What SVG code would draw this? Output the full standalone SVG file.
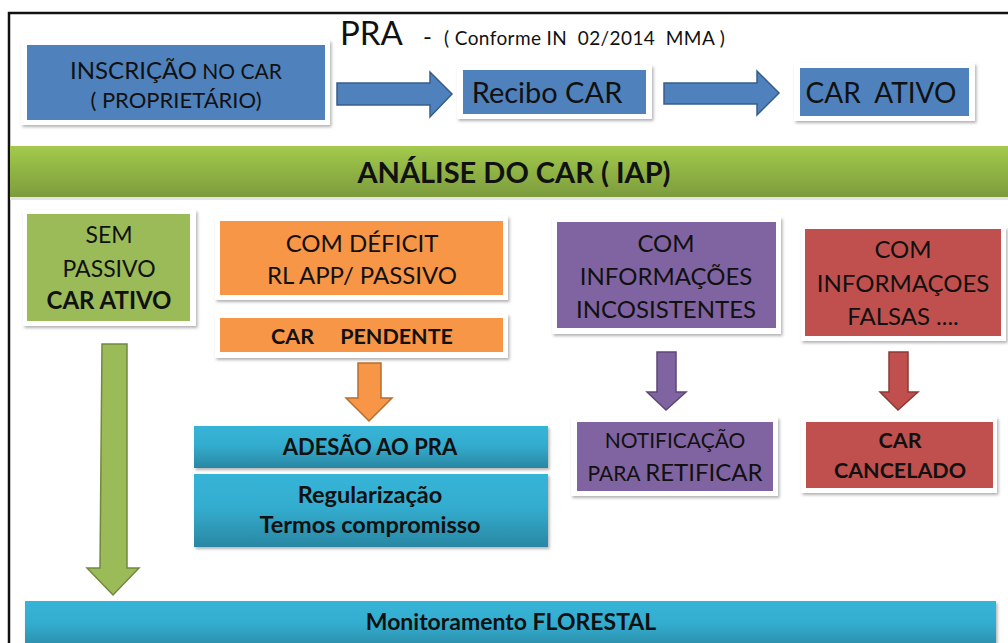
<svg xmlns="http://www.w3.org/2000/svg" width="1008" height="643" viewBox="0 0 1008 643">
<defs>
<filter id="sh" x="-10%" y="-10%" width="130%" height="140%">
<feDropShadow dx="1.5" dy="2" stdDeviation="1.5" flood-color="#000" flood-opacity="0.3"/>
</filter>
<linearGradient id="gGreen" x1="0" y1="0" x2="0" y2="1">
<stop offset="0" stop-color="#A3CA4C"/>
<stop offset="1" stop-color="#7C9C3D"/>
</linearGradient>
<linearGradient id="gTeal" x1="0" y1="0" x2="0" y2="1">
<stop offset="0" stop-color="#36B4D7"/>
<stop offset="0.45" stop-color="#33ADCF"/>
<stop offset="1" stop-color="#2A87A3"/>
</linearGradient>
<style>
text{font-family:Lato,"Open Sans","Liberation Sans",sans-serif;fill:#111;text-anchor:middle;white-space:pre}
.b{font-weight:bold}
.frame{fill:#fff;filter:url(#sh)}
.blue{fill:#4F81BD}
.green{fill:#9BBB59}
.orange{fill:#F79646}
.purple{fill:#8064A2}
.red{fill:#C0504D}
.teal{fill:url(#gTeal);filter:url(#sh)}
</style>
</defs>
<rect width="1008" height="643" fill="#fff"/>
<path d="M9 643 V13 H1008" fill="none" stroke="#111" stroke-width="2.5"/>

<g id="title">
<text x="340" y="45" style="text-anchor:start;font-size:33px">PRA</text>
<text x="423" y="45" style="text-anchor:start;font-size:24px">-</text>
<text x="444" y="45" style="text-anchor:start;font-size:19px;letter-spacing:0.4px">( Conforme IN  02/2014  MMA )</text>
</g>

<g id="inscricao">
<rect class="frame" x="21" y="40" width="309" height="85"/>
<rect class="blue" x="27" y="45" width="298" height="75"/>
<text x="176" y="79"><tspan style="font-size:24px">INSCRIÇÃO</tspan><tspan style="font-size:21px"> NO CAR</tspan></text>
<text x="176" y="108" style="font-size:22px">( PROPRIETÁRIO)</text>
</g>

<g id="recibo">
<rect class="frame" x="457" y="65" width="195" height="54"/>
<rect class="blue" x="463" y="70" width="183" height="44"/>
<text x="547" y="103" style="font-size:29px">Recibo CAR</text>
</g>

<g id="carativo">
<rect class="frame" x="794" y="63" width="181" height="58"/>
<rect class="blue" x="800" y="68" width="169" height="48"/>
<text x="881" y="103" style="font-size:28px">CAR  ATIVO</text>
</g>

<g id="analise">
<rect x="10" y="146" width="998" height="51" fill="url(#gGreen)"/>
<rect x="10" y="197" width="998" height="3" fill="#e4e4e4"/>
<text class="b" x="514" y="183" style="font-size:29px">ANÁLISE DO CAR ( IAP)</text>
</g>

<g id="sempassivo">
<rect class="frame" x="23" y="210" width="173" height="116"/>
<rect class="green" x="27" y="214" width="163" height="107"/>
<text x="109" y="243" style="font-size:23px">SEM</text>
<text x="109" y="277" style="font-size:23px">PASSIVO</text>
<text class="b" x="109" y="309" style="font-size:24px">CAR ATIVO</text>
</g>

<g id="deficit">
<rect class="frame" x="215" y="216" width="293" height="84"/>
<rect class="orange" x="220" y="221" width="283" height="74"/>
<text x="362" y="252" style="font-size:24px">COM DÉFICIT</text>
<text x="362" y="284" style="font-size:24px">RL APP/ PASSIVO</text>
</g>

<g id="pendente">
<rect class="frame" x="215" y="314" width="293" height="44"/>
<rect class="orange" x="220" y="318" width="283" height="34"/>
<text class="b" x="362" y="344" style="font-size:21.5px">CAR     PENDENTE</text>
</g>

<g id="adesao">
<rect class="teal" x="194" y="426" width="354" height="42"/>
<text class="b" x="370" y="455" style="font-size:22px">ADESÃO AO PRA</text>
</g>

<g id="regularizacao">
<rect class="teal" x="194" y="474" width="354" height="73"/>
<text class="b" x="370" y="503" style="font-size:23.5px">Regularização</text>
<text class="b" x="370" y="533" style="font-size:23.5px">Termos compromisso</text>
</g>

<g id="inconsistentes">
<rect class="frame" x="552" y="217" width="229" height="117"/>
<rect class="purple" x="557" y="222" width="219" height="106"/>
<text x="666" y="252" style="font-size:24px">COM</text>
<text x="666" y="285" style="font-size:24px">INFORMAÇÕES</text>
<text x="666" y="318" style="font-size:24px">INCOSISTENTES</text>
</g>

<g id="notificacao">
<rect class="frame" x="571" y="417" width="207" height="79"/>
<rect class="purple" x="577" y="422" width="196" height="69"/>
<text x="675" y="448" style="font-size:21px">NOTIFICAÇÃO</text>
<text x="675" y="481"><tspan style="font-size:21px">PARA </tspan><tspan style="font-size:24px">RETIFICAR</tspan></text>
</g>

<g id="falsas">
<rect class="frame" x="801" y="227" width="205" height="114"/>
<rect class="red" x="805" y="229" width="196" height="107"/>
<text x="903" y="258" style="font-size:24px">COM</text>
<text x="903" y="292" style="font-size:24px">INFORMAÇOES</text>
<text x="903" y="325" style="font-size:24px">FALSAS ....</text>
</g>

<g id="cancelado">
<rect class="frame" x="801" y="417" width="196" height="76"/>
<rect class="red" x="806" y="422" width="187" height="66"/>
<text class="b" x="900" y="448" style="font-size:21.5px">CAR</text>
<text class="b" x="900" y="478" style="font-size:21.5px">CANCELADO</text>
</g>

<g id="monitoramento">
<rect class="teal" x="25" y="601" width="971" height="50"/>
<text class="b" x="511" y="630" style="font-size:23px">Monitoramento FLORESTAL</text>
</g>

<g id="connectors" stroke-width="1.5" stroke-linejoin="miter">
<path d="M337 83 H430 V72 L452 94 L430 117 V105 H337 Z" fill="#4F81BD" stroke="#385D8A"/>
<path d="M664 83 H757 V71 L779 93 L757 115 V104 H664 Z" fill="#4F81BD" stroke="#385D8A"/>
<path d="M102 344 H127 V568 H139 L113 595 L87 568 H100 Z" fill="#9BBB59" stroke="#71893F"/>
<path d="M358 363 H381 V398 H392 L369 421 L346 398 H358 Z" fill="#F79646" stroke="#B66D31"/>
<path d="M657 352 H676 V392 H686 L666 410 L647 392 H657 Z" fill="#8064A2" stroke="#5C4776"/>
<path d="M889 352 H908 V392 H918 L898 410 L880 392 H889 Z" fill="#C0504D" stroke="#8C3836"/>
</g>
</svg>
